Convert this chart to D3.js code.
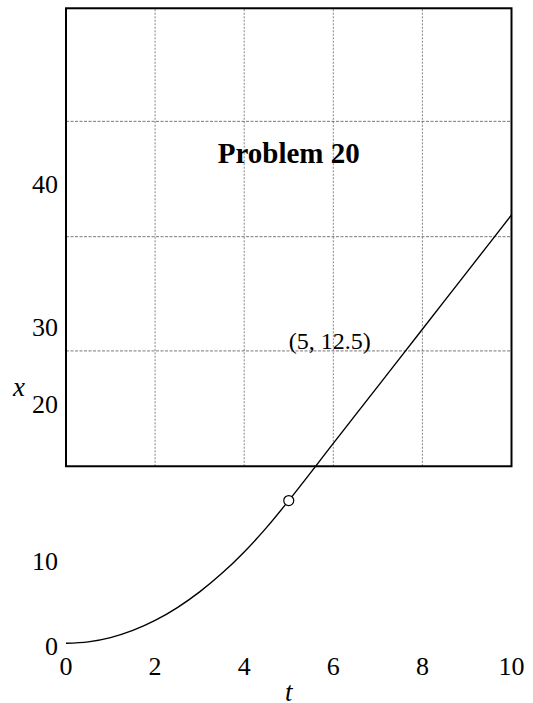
<!DOCTYPE html>
<html>
<head>
<meta charset="utf-8">
<script src="https://d3js.org/d3.v7.min.js"></script>
<style>
  body { margin: 0; background: #fff; }
  svg { display: block; font-family: "Liberation Serif", "Times New Roman", serif; }
</style>
</head>
<body>
<div id="chart"></div>
<script>
// position x (m) against time t (s): speeding up to t = 5, then steady
var times = [0, 0.5, 1, 1.5, 2, 2.5, 3, 3.5, 4, 4.5, 5, 6, 7, 8, 9, 10];
var positions = [0, 0.125, 0.5, 1.125, 2, 3.125, 4.5, 6.125, 8, 10.125, 12.5, 17.5, 22.5, 27.5, 32.5, 37.5];

var marked = [5, 12.5];
var markedLabel = "(5, 12.5)";
var title = "Problem 20";

var xTicks = [0, 2, 4, 6, 8, 10];
var yTickLabels = ["0", "10", "20", "30", "40"];
// where each y label actually sits in the picture (in x units)
var yTickAt = [-0.2, 7.24, 21.0, 27.7, 40.25];

// frame and grid drawn over the upper part of the plot
var frameX = [0, 10];
var frameY = [15.5, 55.6];
var gridT = [2, 4, 6, 8];
var gridX = [25.6, 35.6, 45.7];

var width = 533, height = 703;

var svg = d3.select("#chart").append("svg")
  .attr("width", width)
  .attr("height", height);

var x = d3.scaleLinear().domain([0, 10]).range([66, 511.5]);
var y = d3.scaleLinear().domain([0, 37.5]).range([643.3, 215]);

// grid
svg.append("g")
  .attr("class", "grid")
  .selectAll("line.v")
  .data(gridT)
  .enter().append("line")
  .attr("x1", function (d) { return x(d); })
  .attr("x2", function (d) { return x(d); })
  .attr("y1", y(frameY[0]))
  .attr("y2", y(frameY[1]))
  .attr("stroke", "#777")
  .attr("stroke-width", 0.9)
  .attr("stroke-dasharray", "2,1.5");

svg.select("g.grid")
  .selectAll("line.h")
  .data(gridX)
  .enter().append("line")
  .attr("class", "h")
  .attr("x1", x(frameX[0]))
  .attr("x2", x(frameX[1]))
  .attr("y1", function (d) { return y(d); })
  .attr("y2", function (d) { return y(d); })
  .attr("stroke", "#555")
  .attr("stroke-width", 0.8)
  .attr("stroke-dasharray", "3,1.5");

// frame
svg.append("rect")
  .attr("x", x(frameX[0]))
  .attr("y", y(frameY[1]))
  .attr("width", x(frameX[1]) - x(frameX[0]))
  .attr("height", y(frameY[0]) - y(frameY[1]))
  .attr("fill", "none")
  .attr("stroke", "#000")
  .attr("stroke-width", 2);

// title and point label
svg.append("text")
  .attr("x", x(5))
  .attr("y", 163)
  .attr("text-anchor", "middle")
  .attr("font-size", 29)
  .attr("font-weight", "bold")
  .text(title);

svg.append("text")
  .attr("x", x(marked[0]))
  .attr("y", 349)
  .attr("font-size", 24)
  .text(markedLabel);

// curve
var line = d3.line()
  .x(function (d) { return x(d[0]); })
  .y(function (d) { return y(d[1]); })
  .curve(d3.curveMonotoneX);

svg.append("path")
  .datum(d3.zip(times, positions))
  .attr("d", line)
  .attr("fill", "none")
  .attr("stroke", "#000")
  .attr("stroke-width", 1.4);

svg.append("circle")
  .attr("cx", x(marked[0]))
  .attr("cy", y(marked[1]))
  .attr("r", 5)
  .attr("fill", "#fff")
  .attr("stroke", "#000")
  .attr("stroke-width", 1.2);

// tick labels
svg.append("g")
  .selectAll("text")
  .data(xTicks)
  .enter().append("text")
  .attr("x", function (d) { return x(d); })
  .attr("y", 675)
  .attr("text-anchor", "middle")
  .attr("font-size", 26)
  .text(function (d) { return d; });

svg.append("g")
  .selectAll("text")
  .data(yTickLabels)
  .enter().append("text")
  .attr("x", 58)
  .attr("y", function (d, i) { return y(yTickAt[i]); })
  .attr("dy", "0.35em")
  .attr("text-anchor", "end")
  .attr("font-size", 26)
  .text(function (d) { return d; });

// axis names
svg.append("text")
  .attr("x", 19)
  .attr("y", 396)
  .attr("text-anchor", "middle")
  .attr("font-size", 27)
  .attr("font-style", "italic")
  .text("x");

svg.append("text")
  .attr("x", x(5))
  .attr("y", 701)
  .attr("text-anchor", "middle")
  .attr("font-size", 27)
  .attr("font-style", "italic")
  .text("t");
</script>
</body>
</html>
